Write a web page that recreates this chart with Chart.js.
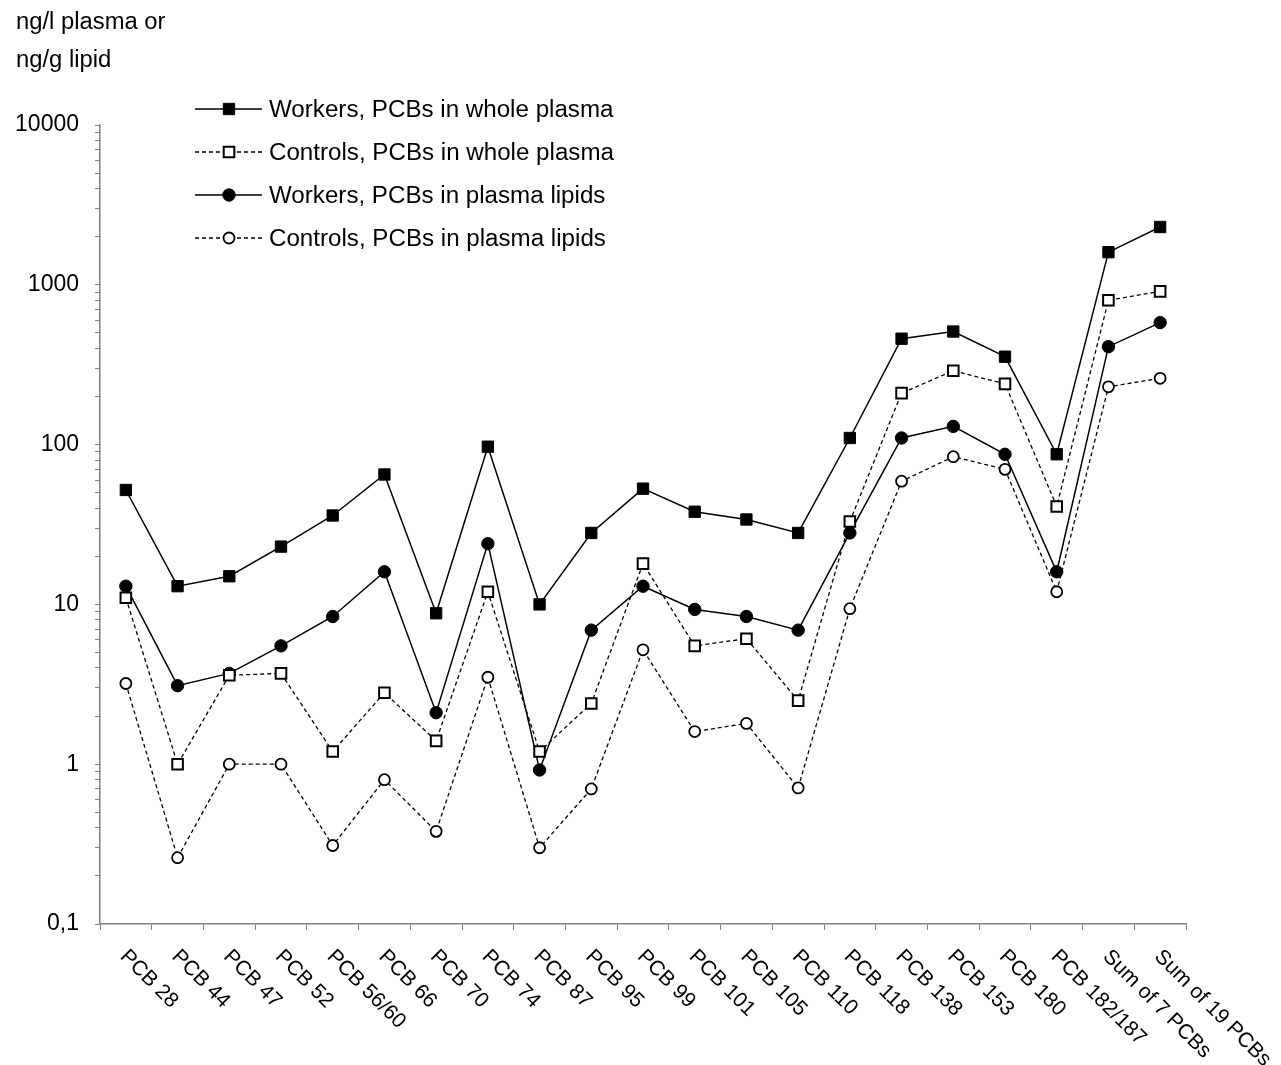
<!DOCTYPE html>
<html>
<head>
<meta charset="utf-8">
<title>PCB concentrations</title>
<script src="https://cdn.jsdelivr.net/npm/chart.js@4/dist/chart.umd.min.js"></script>
<style>
  html, body { margin: 0; padding: 0; background: #ffffff; }
  #wrap { width: 1281px; height: 1065px; position: relative; }
  canvas { display: block; }
</style>
</head>
<body>
<div id="wrap"><canvas id="chart" width="1281" height="1065"></canvas></div>
<script>
// Congeners / sums along the x axis
const categories = [
  'PCB 28', 'PCB 44', 'PCB 47', 'PCB 52', 'PCB 56/60', 'PCB 66', 'PCB 70',
  'PCB 74', 'PCB 87', 'PCB 95', 'PCB 99', 'PCB 101', 'PCB 105', 'PCB 110',
  'PCB 118', 'PCB 138', 'PCB 153', 'PCB 180', 'PCB 182/187',
  'Sum of 7 PCBs', 'Sum of 19 PCBs'
];

// ng/l plasma
const workersPlasma  = [52, 13, 15, 23, 36, 65, 8.8, 97, 10, 28, 53, 38, 34, 28, 110, 460, 510, 355, 87, 1600, 2300];
const controlsPlasma = [11, 1.0, 3.6, 3.7, 1.2, 2.8, 1.4, 12, 1.2, 2.4, 18, 5.5, 6.1, 2.5, 33, 210, 290, 240, 41, 800, 910];

// ng/g lipid
const workersLipids  = [13, 3.1, 3.7, 5.5, 8.4, 16, 2.1, 24, 0.92, 6.9, 13, 9.3, 8.4, 6.9, 28, 110, 130, 87, 16, 410, 580];
const controlsLipids = [3.2, 0.26, 1.0, 1.0, 0.31, 0.80, 0.38, 3.5, 0.30, 0.70, 5.2, 1.6, 1.8, 0.71, 9.4, 59, 84, 70, 12, 230, 260];

const seriesNames = [
  'Workers, PCBs in whole plasma',
  'Controls, PCBs in whole plasma',
  'Workers, PCBs in plasma lipids',
  'Controls, PCBs in plasma lipids'
];

// Logarithmic axis range and the unit caption
const yMin = 0.1;
const yMax = 10000;
const yUnitLines = ['ng/l plasma or', 'ng/g lipid'];

const FONT = '"Liberation Sans", Arial, sans-serif';
const AXIS_GREY = '#808080';
const DASH = [4, 3];

function lineDataset(label, data, opts) {
  return Object.assign({
    label: label,
    data: data,
    borderColor: '#000000',
    pointBorderColor: '#000000',
    tension: 0,
    fill: false,
    pointHoverRadius: 0
  }, opts);
}

const datasets = [
  lineDataset(seriesNames[0], workersPlasma, {
    borderWidth: 1.5, pointStyle: 'rect', pointRadius: 8,
    pointBackgroundColor: '#000000', pointBorderWidth: 1
  }),
  lineDataset(seriesNames[1], controlsPlasma, {
    borderWidth: 1.3, borderDash: DASH, pointStyle: 'rect', pointRadius: 7.5,
    pointBackgroundColor: '#ffffff', pointBorderWidth: 2
  }),
  lineDataset(seriesNames[2], workersLipids, {
    borderWidth: 1.5, pointStyle: 'circle', pointRadius: 6.2,
    pointBackgroundColor: '#000000', pointBorderWidth: 1
  }),
  lineDataset(seriesNames[3], controlsLipids, {
    borderWidth: 1.3, borderDash: DASH, pointStyle: 'circle', pointRadius: 5.5,
    pointBackgroundColor: '#ffffff', pointBorderWidth: 1.8
  })
];

// text drawn a touch wider than the plain font
function wideText(ctx, text, x, y, stretch) {
  ctx.save();
  ctx.translate(x, y);
  ctx.scale(stretch, 1);
  ctx.fillText(text, 0, 0);
  ctx.restore();
}

// Unit caption, in-plot legend and slanted category labels
const decorations = {
  id: 'decorations',
  afterDraw(chart) {
    const ctx = chart.ctx;
    ctx.save();
    ctx.fillStyle = '#000000';
    ctx.font = '23px ' + FONT;
    ctx.textAlign = 'left';
    ctx.textBaseline = 'alphabetic';
    wideText(ctx, yUnitLines[0], 16, 29, 1.035);
    wideText(ctx, yUnitLines[1], 16, 67, 1.035);

    // legend
    const rowY = [109, 152, 195, 238];
    chart.data.datasets.forEach((ds, i) => {
      const y = rowY[i];
      ctx.save();
      ctx.strokeStyle = '#000000';
      ctx.lineWidth = ds.borderWidth;
      ctx.setLineDash(ds.borderDash || []);
      ctx.beginPath();
      ctx.moveTo(195, y);
      ctx.lineTo(262, y);
      ctx.stroke();
      ctx.setLineDash([]);
      ctx.fillStyle = ds.pointBackgroundColor;
      ctx.strokeStyle = '#000000';
      ctx.lineWidth = ds.pointBorderWidth;
      Chart.helpers.drawPoint(ctx, {
        pointStyle: ds.pointStyle,
        radius: ds.pointRadius,
        rotation: 0,
        borderWidth: ds.pointBorderWidth
      }, 229, y);
      ctx.restore();
      ctx.fillStyle = '#000000';
      ctx.font = '23px ' + FONT;
      ctx.textBaseline = 'alphabetic';
      wideText(ctx, ds.label, 269, y + 8, 1.05);
    });

    // x category labels, slanted down to the right
    const xs = chart.scales.x;
    ctx.font = '21px ' + FONT;
    ctx.textAlign = 'left';
    ctx.textBaseline = 'top';
    chart.data.labels.forEach((lab, i) => {
      const x = xs.getPixelForValue(i);
      ctx.save();
      ctx.translate(x + 5, 946);
      ctx.rotate(Math.PI / 4);
      ctx.fillText(lab, 0, 0);
      ctx.restore();
    });
    ctx.restore();
  }
};

new Chart(document.getElementById('chart'), {
  type: 'line',
  data: { labels: categories, datasets: datasets },
  options: {
    responsive: false,
    animation: false,
    devicePixelRatio: 1,
    layout: { padding: { top: 125, right: 95, bottom: 0, left: 0 } },
    plugins: {
      legend: { display: false },
      tooltip: { enabled: false },
      title: { display: false }
    },
    scales: {
      x: {
        type: 'category',
        offset: true,
        ticks: { display: false },
        grid: {
          offset: true, drawOnChartArea: false, drawTicks: true,
          tickLength: 6, color: AXIS_GREY, lineWidth: 1
        },
        border: { display: true, color: AXIS_GREY, width: 1.5 },
        afterFit(scale) { scale.height = 141; }
      },
      y: {
        type: 'logarithmic',
        min: yMin,
        max: yMax,
        afterBuildTicks(scale) {
          const ticks = [];
          for (let e = -1; e <= 4; e++) {
            for (let m = 1; m <= 9; m++) {
              const v = Number((m * Math.pow(10, e)).toPrecision(3));
              if (v <= yMax) ticks.push({ value: v });
            }
          }
          scale.ticks = ticks;
        },
        ticks: {
          autoSkip: false,
          color: '#000000',
          font: { family: FONT, size: 23 },
          padding: 16,
          callback(v) {
            const l = Math.log10(v);
            if (Math.abs(l - Math.round(l)) > 1e-6) return '';
            return v < 1 ? String(v).replace('.', ',') : String(v);
          }
        },
        grid: {
          drawOnChartArea: false, drawTicks: true, tickLength: 5,
          color: AXIS_GREY, lineWidth: 1
        },
        border: { display: true, color: AXIS_GREY, width: 1.5 },
        afterFit(scale) { scale.width = 100; }
      }
    }
  },
  plugins: [decorations]
});
</script>
</body>
</html>
